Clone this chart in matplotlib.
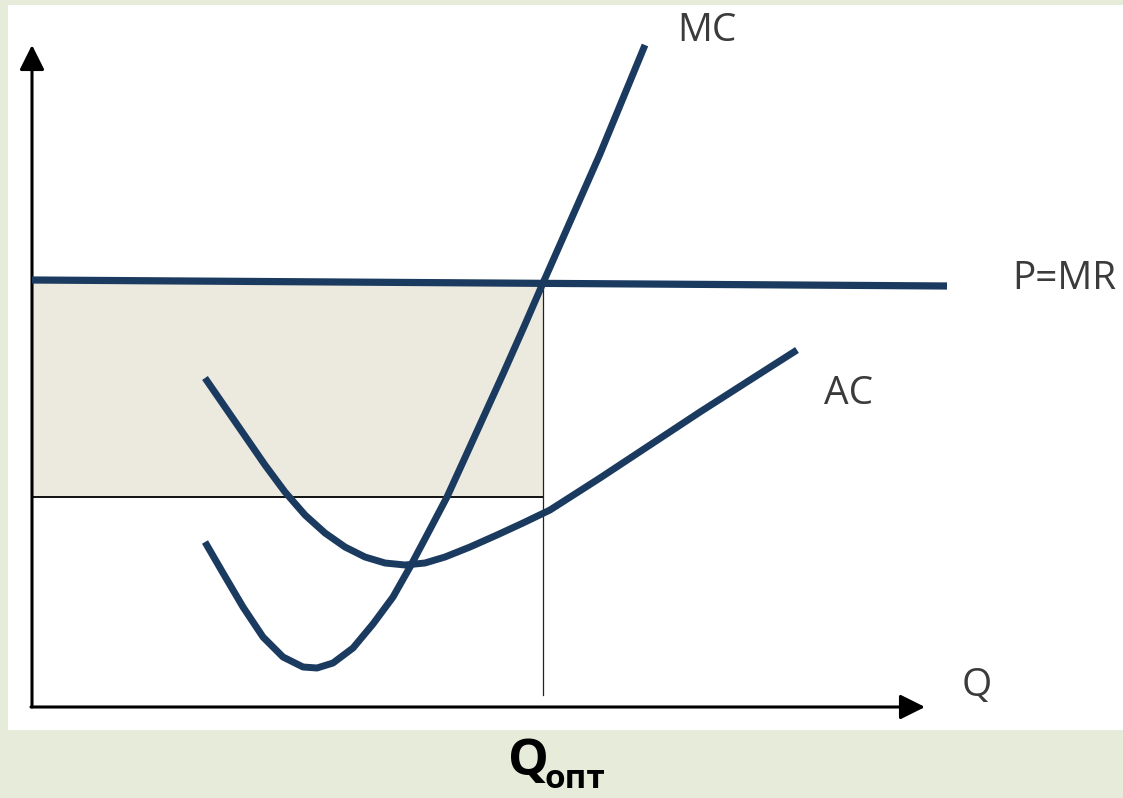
import matplotlib
matplotlib.use("Agg")
import matplotlib.pyplot as plt
from matplotlib.patches import Rectangle

# Marginal cost curve (Q, P)
mc_q = [17.3, 19.1, 21.1, 23.1, 25.1, 27.1, 28.5, 30.1, 32.1, 34.1, 36.1,
        37.8, 39.5, 41.5, 43.1, 45.1, 47.1, 49.1, 51.1, 56.8, 61.3]
mc_p = [16.5, 13.4, 10.0, 7.0, 5.0, 4.0, 3.9, 4.4, 5.9, 8.3, 11.0,
        14.0, 17.2, 21.0, 24.5, 28.9, 33.3, 37.8, 42.4, 55.3, 66.2]

# Average cost curve (Q, P)
ac_q = [17.3, 19.3, 21.3, 23.3, 25.3, 27.3, 29.3, 31.3, 33.3, 35.3, 37.3,
        39.3, 41.3, 43.8, 46.5, 49.1, 51.8, 56.8, 61.8, 66.8, 71.8, 76.5]
ac_p = [32.9, 30.0, 27.1, 24.2, 21.5, 19.2, 17.4, 16.0, 15.0, 14.4, 14.2,
        14.4, 15.0, 16.0, 17.2, 18.4, 19.7, 22.9, 26.2, 29.5, 32.7, 35.7]

# Price = marginal revenue line
mr_q = [0.0, 91.5]
mr_p = [42.7, 42.1]

# Optimal output, price and average cost level
q_opt = 51.1
p_opt = 42.4
ac_level = 21.0

# Axis extents
q_axis_end = 89.3
p_axis_end = 66.2

NAVY = "#1b3a5f"
FONT = ["Open Sans", "DejaVu Sans"]

fig = plt.figure(figsize=(11.23, 7.98), dpi=100, facecolor="#e6ebda")

ax = fig.add_axes([0, 0, 1, 1])
ax.set_xlim(-3.2, 109.1)
ax.set_ylim(-9.1, 70.7)
ax.axis("off")
ax.patch.set_alpha(0)

# white card behind the diagram
ax.add_patch(Rectangle((-2.4, -2.3), 111.5, 72.5, facecolor="white",
                       edgecolor="none", zorder=0))

# profit rectangle
ax.add_patch(Rectangle((0, ac_level), q_opt, p_opt - ac_level,
                       facecolor="#ece9de", edgecolor="none", zorder=1))
ax.plot([0, q_opt], [ac_level, ac_level], color="black", lw=1.3, zorder=2)
ax.plot([q_opt, q_opt], [p_opt, 1.2], color="#222222", lw=0.9, zorder=2)

# axes with arrows
ax.annotate("", xy=(0, p_axis_end), xytext=(0, 0),
            arrowprops=dict(arrowstyle="-|>", color="black", lw=2.2,
                            mutation_scale=38, shrinkA=0, shrinkB=0), zorder=3)
ax.annotate("", xy=(q_axis_end, 0), xytext=(-0.1, 0),
            arrowprops=dict(arrowstyle="-|>", color="black", lw=2.2,
                            mutation_scale=38, shrinkA=0, shrinkB=0), zorder=3)

# curves
ax.plot(mr_q, mr_p, color=NAVY, lw=5.2, solid_capstyle="butt", zorder=4)
ax.plot(ac_q, ac_p, color=NAVY, lw=5.0, solid_capstyle="butt",
        solid_joinstyle="round", zorder=4)
ax.plot(mc_q, mc_p, color=NAVY, lw=5.0, solid_capstyle="butt",
        solid_joinstyle="round", zorder=5)

# labels
lab = dict(family=FONT, fontsize=28, color="#3b3b3b", zorder=6)
ax.text(64.5, 67.6, "MC", ha="left", va="center", **lab)
ax.text(98.0, 42.8, "P=MR", ha="left", va="center", **lab)
ax.text(79.2, 31.3, "AC", ha="left", va="center", **lab)
ax.text(93.0, 2.1, "Q", ha="left", va="center", **lab)

ax.text(47.6, -5.5, "Q", ha="left", va="center", family=FONT,
        fontsize=37, fontweight="bold", color="black", zorder=6)
ax.text(51.2, -7.3, "опт", ha="left", va="center", family=FONT,
        fontsize=24, fontweight="bold", color="black", zorder=6)

fig.savefig("out.png", dpi=100, facecolor=fig.get_facecolor())
